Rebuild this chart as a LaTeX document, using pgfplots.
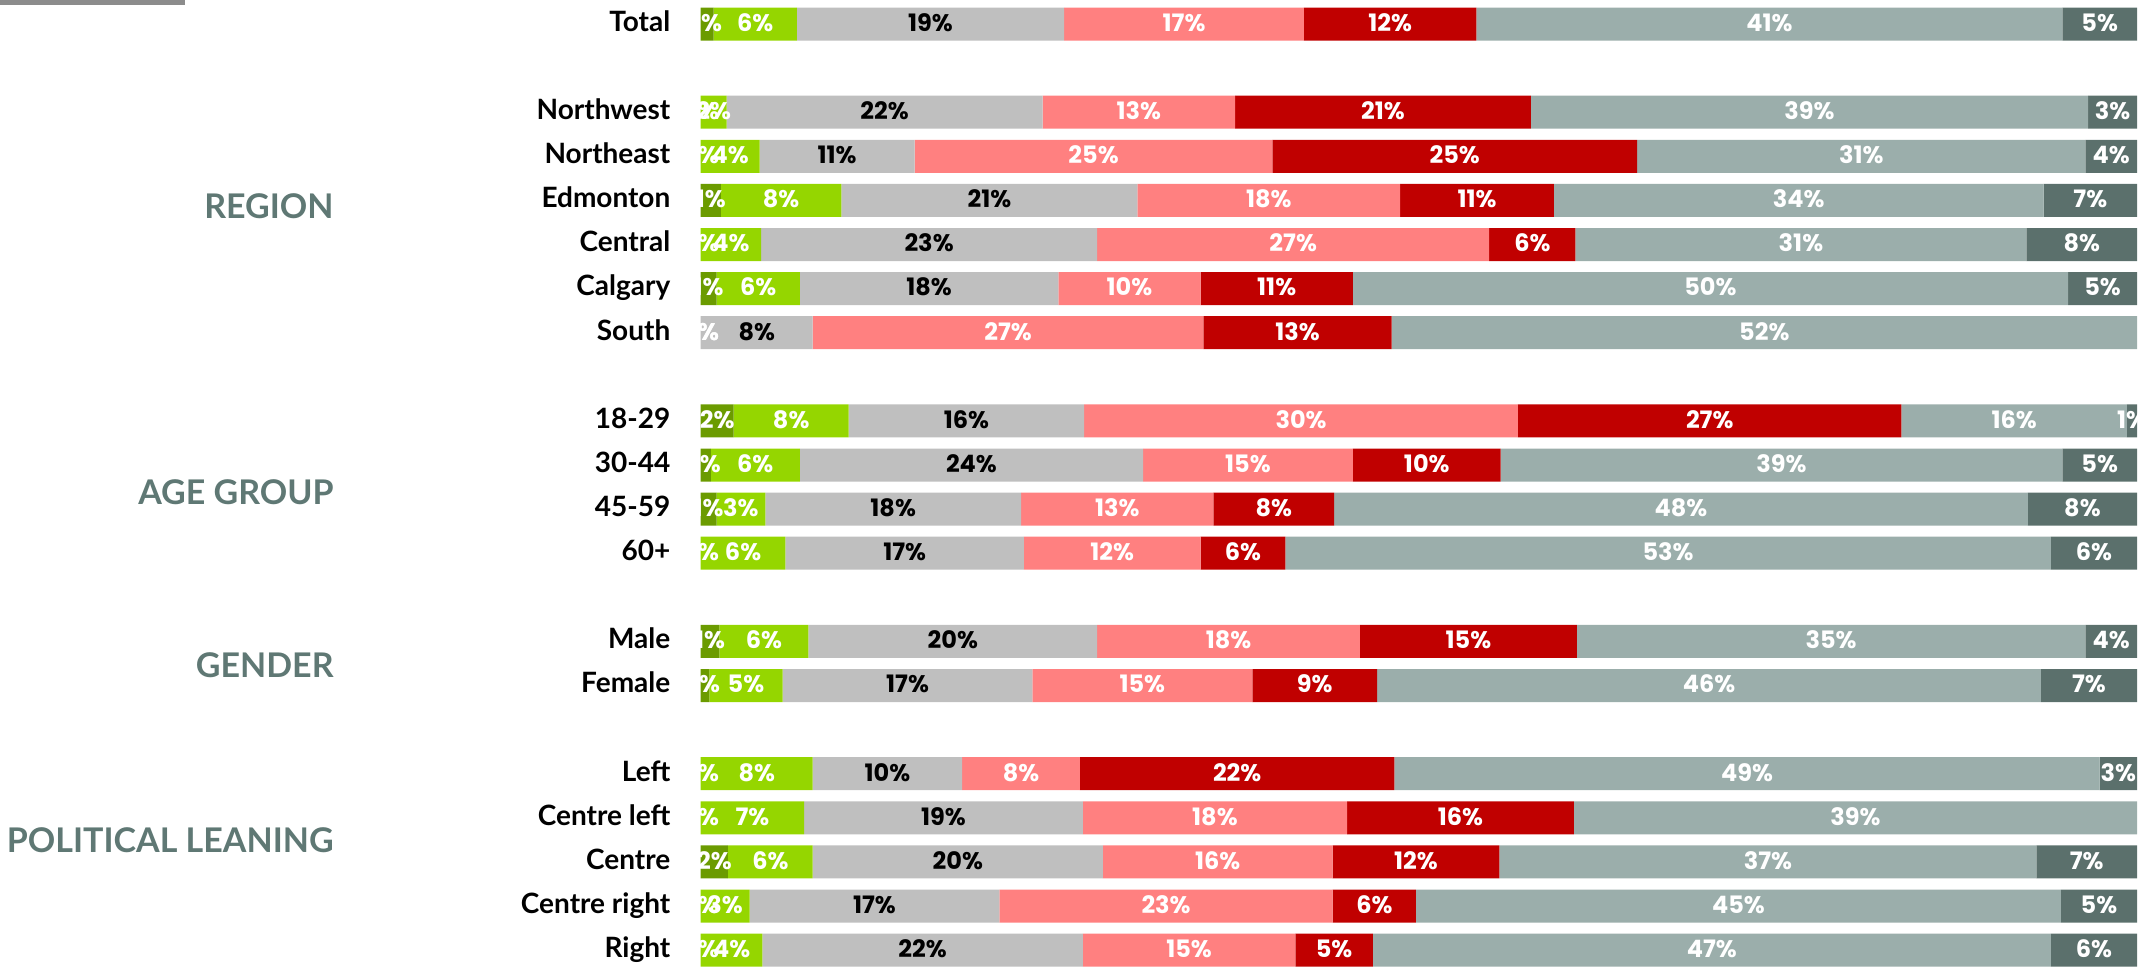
\documentclass[border=0pt]{standalone}
\usepackage{fontspec}
\setmainfont{Lato}
\newfontfamily\numfont{Poppins}
\usepackage{pgfplots}
\pgfplotsset{compat=1.18}
\usepackage{pgfplotstable}

\definecolor{cdg}{HTML}{6B9B00}
\definecolor{clg}{HTML}{95D600}
\definecolor{cgr}{HTML}{BFBFBF}
\definecolor{cpk}{HTML}{FF8080}
\definecolor{crd}{HTML}{C00000}
\definecolor{ctg}{HTML}{9BAEAB}
\definecolor{cds}{HTML}{5B706C}
\definecolor{cgrp}{HTML}{5F7874}
\definecolor{crule}{HTML}{8C8C8C}

\pgfplotstableread{
y dg lg gr pk rd tg ds
0 0.9 5.8 18.6 16.7 12.0 40.8 5.2
2 0 1.8 22.0 13.4 20.6 38.8 3.4
3 0 4.1 10.8 24.9 25.4 31.2 3.6
4 1.4 8.4 20.6 18.3 10.7 34.1 6.5
5 0 4.2 23.4 27.3 6.0 31.4 7.7
6 1.1 5.8 18.0 9.9 10.6 49.8 4.8
7 0 0 7.8 27.2 13.1 51.9 0
9 2.3 8.0 16.4 30.2 26.7 15.7 0.7
10 0.7 6.2 23.9 14.6 10.3 39.1 5.2
11 1.1 3.4 17.8 13.4 8.4 48.3 7.6
12 0 5.9 16.6 12.3 5.9 53.3 6.0
14 1.3 6.2 20.1 18.3 15.1 35.4 3.6
15 0.6 5.1 17.4 15.3 8.7 46.2 6.7
17 0 7.8 10.4 8.2 21.9 49.1 2.6
18 0 7.2 19.4 18.4 15.8 39.2 0
19 1.9 5.9 20.2 16.0 11.6 37.4 7.0
20 0 3.4 17.4 23.2 5.8 44.9 5.3
21 0 4.3 22.3 14.8 5.4 47.2 6.0
}\data

\pgfplotsset{
  common/.style={
    scale only axis,
    width=718.15pt, height=485.1pt,
    xmin=0, xmax=100, ymin=-0.5, ymax=21.5,
    y dir=reverse,
    at={(350.35pt,-0.975pt)}, anchor=north west,
  },
  lbl/.style={
    only marks, mark=none, point meta=explicit,
    nodes near coords={\pgfmathprintnumber[fixed,precision=0,assume math mode=true]{\pgfplotspointmeta}\%},
    every node near coord/.append style={anchor=center, inner sep=0pt,
      font=\numfont\bfseries\fontsize{12}{12}\selectfont, text=#1,
      text height=1.45ex, text depth=0pt},
  },
}

\begin{document}
\begin{tikzpicture}
\clip (0pt,0pt) rectangle (1076pt,-483pt);
\fill[crule] (0pt,0pt) rectangle (92.5pt,-2.3pt);

\begin{axis}[common,
  xbar stacked, bar width=16.5pt,
  axis line style={draw=none},
  major tick length=0pt,
  xtick=\empty,
  ytick={0,2,3,4,5,6,7,9,10,11,12,14,15,17,18,19,20,21},
  yticklabels={Total,Northwest,Northeast,Edmonton,Central,Calgary,South,18-29,30-44,45-59,60+,Male,Female,Left,Centre left,Centre,Centre right,Right},
  yticklabel style={anchor=east, inner sep=0pt, xshift=-15pt,
    font=\bfseries\fontsize{14}{14}\selectfont, text height=1.45ex, text depth=0pt},
]
\addplot[fill=cdg, draw=none] table[x=dg, y=y] {\data};
\addplot[fill=clg, draw=none] table[x=lg, y=y] {\data};
\addplot[fill=cgr, draw=none] table[x=gr, y=y] {\data};
\addplot[fill=cpk, draw=none] table[x=pk, y=y] {\data};
\addplot[fill=crd, draw=none] table[x=rd, y=y] {\data};
\addplot[fill=ctg, draw=none] table[x=tg, y=y] {\data};
\addplot[fill=cds, draw=none] table[x=ds, y=y] {\data};
\end{axis}

\begin{scope}
\clip (350.35pt,0pt) rectangle (1068.5pt,-483pt);
\begin{axis}[common, hide axis]
\addplot[lbl=white] table[x expr=\thisrow{dg}/2, y=y, meta=dg] {\data};
\addplot[lbl=white] table[x expr=\thisrow{dg}+\thisrow{lg}/2, y=y, meta=lg] {\data};
\addplot[lbl=black] table[x expr=\thisrow{dg}+\thisrow{lg}+\thisrow{gr}/2, y=y, meta=gr] {\data};
\addplot[lbl=white] table[x expr=\thisrow{dg}+\thisrow{lg}+\thisrow{gr}+\thisrow{pk}/2, y=y, meta=pk] {\data};
\addplot[lbl=white] table[x expr=\thisrow{dg}+\thisrow{lg}+\thisrow{gr}+\thisrow{pk}+\thisrow{rd}/2, y=y, meta=rd] {\data};
\addplot[lbl=white] table[x expr=\thisrow{dg}+\thisrow{lg}+\thisrow{gr}+\thisrow{pk}+\thisrow{rd}+\thisrow{tg}/2, y=y, meta=tg] {\data};
\addplot[lbl=white, restrict x to domain=0:99.9] table[x expr=\thisrow{dg}+\thisrow{lg}+\thisrow{gr}+\thisrow{pk}+\thisrow{rd}+\thisrow{tg}+\thisrow{ds}/2, y=y, meta=ds] {\data};
\end{axis}
\end{scope}

\begin{scope}[every node/.style={anchor=east, inner sep=0pt, text=cgrp,
    font=\bfseries\fontsize{17}{17}\selectfont, text height=1.45ex, text depth=0pt}]
\node at (167pt,-105.7pt) {REGION};
\node at (167pt,-248.6pt) {AGE GROUP};
\node at (167pt,-335.3pt) {GENDER};
\node at (167pt,-422.6pt) {POLITICAL LEANING};
\end{scope}
\end{tikzpicture}
\end{document}
